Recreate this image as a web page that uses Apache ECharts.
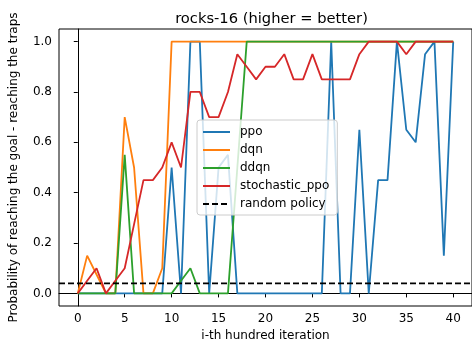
<!DOCTYPE html>
<html>
<head>
<meta charset="utf-8">
<script src="https://cdn.jsdelivr.net/npm/echarts@6/dist/echarts.min.js"></script>
<style>
html,body{margin:0;padding:0;background:#fff;overflow:hidden;}
#chart{width:472px;height:347px;}
</style>
</head>
<body>
<div id="chart"></div>
<script>
var iterations = [0,1,2,3,4,5,6,7,8,9,10,11,12,13,14,15,16,17,18,19,20,21,22,23,24,25,26,27,28,29,30,31,32,33,34,35,36,37,38,39,40];
var ppo = [0,0,0,0,0,0,0,0,0,0,0.5,0,1,1,0,0.5,0.55,0,0,0,0,0,0,0,0,0,0,1,0,0,0.65,0,0.45,0.45,1,0.65,0.6,0.95,1,0.15,1];
var dqn = [0,0.15,0.075,0,0,0.7,0.5,0,0,0.1,1,1,1,1,1,1,1,1,1,1,1,1,1,1,1,1,1,1,1,1,1,1,1,1,1,1,1,1,1,1,1];
var ddqn = [0,0,0,0,0,0.55,0,0,0,0,0,0.05,0.1,0,0,0,0,0.5,1,1,1,1,1,1,1,1,1,1,1,1,1,1,1,1,1,1,1,1,1,1,1];
var stochasticPpo = [0,0.05,0.1,0,0.05,0.1,0.275,0.45,0.45,0.5,0.6,0.5,0.8,0.8,0.7,0.7,0.8,0.95,0.9,0.85,0.9,0.9,0.95,0.85,0.85,0.95,0.85,0.85,0.85,0.85,0.95,1,1,1,1,0.95,1,1,1,1,1];
var randomPolicy = 0.04;
var xTicks = [0,5,10,15,20,25,30,35,40];
var yTicks = [0,0.2,0.4,0.6,0.8,1.0];
var xRange = [-2, 42];
var yRange = [-0.05, 1.05];

function pairs(vals){ return iterations.map(function(x,i){ return [x, vals[i]]; }); }

var font = 'DejaVu Sans';
var chart = echarts.init(document.getElementById('chart'), null, {renderer:'canvas'});
function lineSeries(name, vals, color){
  return {name:name, type:'line', data:pairs(vals), showSymbol:false, symbol:'none',
    lineStyle:{color:color, width:1.8}, itemStyle:{color:color, opacity:0}, animation:false, z:2};
}
chart.setOption({
  animation:false,
  textStyle:{fontFamily:font},
  title:{text:'rocks-16 (higher = better)', left:266.5, top:7, textAlign:'center',
    textStyle:{fontFamily:font, fontSize:14.7, fontWeight:'normal', color:'#000'}},
  grid:{left:58, right:-4, top:29, bottom:41, show:true, borderColor:'#000', borderWidth:1, backgroundColor:'transparent'},
  legend:{
    orient:'vertical', left:197, top:120, padding:[6,8,5,5],
    itemWidth:27, itemHeight:12, itemGap:6,
    backgroundColor:'rgba(255,255,255,0.8)', borderColor:'#cccccc', borderWidth:1, borderRadius:3,
    itemStyle:{opacity:0},
    textStyle:{fontFamily:font, fontSize:12, color:'#000', padding:[0,0,0,5]},
    data:['ppo','dqn','ddqn','stochastic_ppo','random policy']
  },
  xAxis:{type:'value', min:xRange[0], max:xRange[1],
    name:'i-th hundred iteration', nameLocation:'middle', nameGap:24,
    nameTextStyle:{fontFamily:font, fontSize:12, color:'#000'},
    axisLine:{show:true, lineStyle:{color:'#000', width:1}},
    axisTick:{show:true, inside:false, length:4, customValues:xTicks, lineStyle:{color:'#000', width:1}},
    axisLabel:{show:true, customValues:xTicks, margin:7, fontFamily:font, fontSize:12, color:'#000'},
    splitLine:{show:false}},
  yAxis:{type:'value', min:yRange[0], max:yRange[1],
    name:'Probability of reaching the goal - reaching the traps', nameLocation:'middle', nameGap:39,
    nameTextStyle:{fontFamily:font, fontSize:12, color:'#000'},
    axisLine:{show:true, lineStyle:{color:'#000', width:1}},
    axisTick:{show:true, inside:false, length:4, customValues:yTicks, lineStyle:{color:'#000', width:1}},
    axisLabel:{show:true, customValues:yTicks, margin:7, fontFamily:font, fontSize:12, color:'#000',
      formatter:function(v){ return v.toFixed(1); }},
    splitLine:{show:false}},
  series:[
    lineSeries('ppo', ppo, '#1f77b4'),
    lineSeries('dqn', dqn, '#ff7f0e'),
    lineSeries('ddqn', ddqn, '#2ca02c'),
    lineSeries('stochastic_ppo', stochasticPpo, '#d62728'),
    {name:'random policy', type:'line', data:[[xRange[0], randomPolicy],[xRange[1], randomPolicy]],
      showSymbol:false, symbol:'none', lineStyle:{color:'#000', width:1.6, type:[6,3]}, itemStyle:{color:'#000', opacity:0}, z:3}
  ]
});
</script>
</body>
</html>
